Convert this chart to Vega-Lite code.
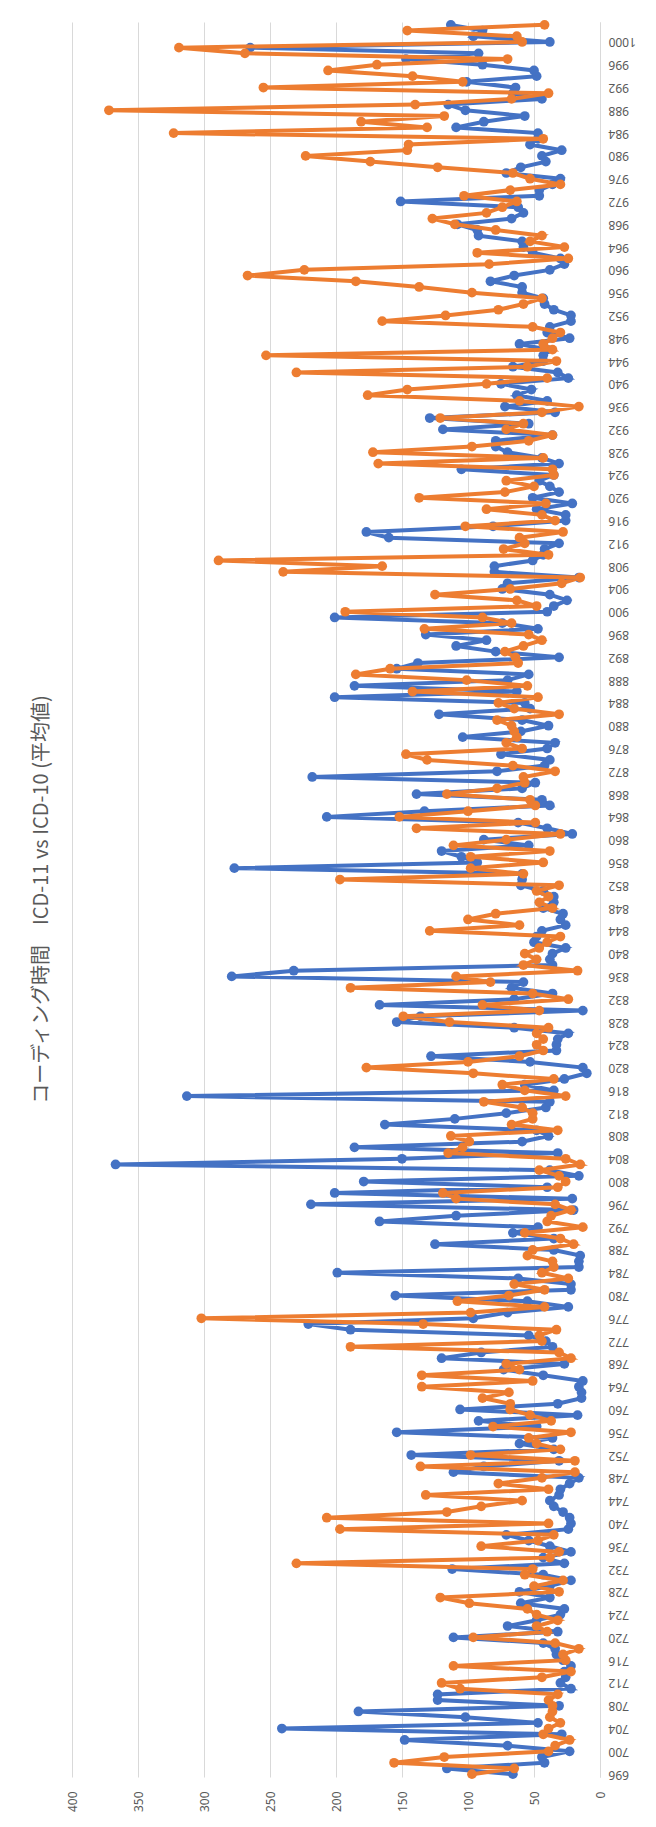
{
"$schema":"https://vega.github.io/schema/vega-lite/v6.json",
"width":528,"height":1755,
"autosize":{"type":"none"},
"padding":{"left":72,"top":22,"right":56,"bottom":50},
"background":"white",
"config":{"view":{"stroke":null},"font":"Noto Sans"},
"title":{"text":"コーディング時間　ICD-11 vs ICD-10 (平均値)","orient":"left","anchor":"middle","angle":-90,"fontSize":20,"font":"Noto Sans CJK JP","fontWeight":"normal","color":"#595959","offset":14},
"data":{"values":[
{"id":696,"a":66,"b":97},{"id":697,"a":116,"b":65},{"id":698,"a":42,"b":156},{"id":699,"a":44,"b":118},{"id":700,"a":23,"b":39},{"id":701,"a":70,"b":34},{"id":702,"a":148,"b":23},{"id":703,"a":29,"b":43},{"id":704,"a":241,"b":39},{"id":705,"a":47,"b":30},{"id":706,"a":102,"b":38},{"id":707,"a":183,"b":36},{"id":708,"a":31,"b":36},{"id":709,"a":123,"b":39},{"id":710,"a":123,"b":32},{"id":711,"a":22,"b":106},{"id":712,"a":30,"b":120},{"id":713,"a":26,"b":44},{"id":714,"a":27,"b":22},{"id":715,"a":22,"b":111},{"id":716,"a":28,"b":26},{"id":717,"a":33,"b":28},{"id":718,"a":34,"b":16},{"id":719,"a":43,"b":34},{"id":720,"a":111,"b":96},{"id":721,"a":32,"b":40},{"id":722,"a":70,"b":48},{"id":723,"a":48,"b":32},{"id":724,"a":30,"b":48},{"id":725,"a":27,"b":55},{"id":726,"a":60,"b":99},{"id":727,"a":38,"b":121},{"id":728,"a":61,"b":31},{"id":729,"a":38,"b":50},{"id":730,"a":22,"b":28},{"id":731,"a":43,"b":57},{"id":732,"a":112,"b":51},{"id":733,"a":27,"b":230},{"id":734,"a":43,"b":38},{"id":735,"a":22,"b":31},{"id":736,"a":38,"b":90},{"id":737,"a":54,"b":47},{"id":738,"a":71,"b":35},{"id":739,"a":24,"b":197},{"id":740,"a":22,"b":39},{"id":741,"a":23,"b":207},{"id":742,"a":28,"b":116},{"id":743,"a":35,"b":90},{"id":744,"a":38,"b":59},{"id":745,"a":31,"b":132},{"id":746,"a":30,"b":39},{"id":747,"a":23,"b":77},{"id":748,"a":16,"b":44},{"id":749,"a":111,"b":19},{"id":750,"a":88,"b":136},{"id":751,"a":31,"b":19},{"id":752,"a":143,"b":98},{"id":753,"a":35,"b":30},{"id":754,"a":61,"b":48},{"id":755,"a":36,"b":54},{"id":756,"a":154,"b":22},{"id":757,"a":48,"b":81},{"id":758,"a":92,"b":37},{"id":759,"a":17,"b":53},{"id":760,"a":106,"b":68},{"id":761,"a":32,"b":68},{"id":762,"a":14,"b":89},{"id":763,"a":14,"b":69},{"id":764,"a":16,"b":135},{"id":765,"a":13,"b":51},{"id":766,"a":43,"b":135},{"id":767,"a":73,"b":61},{"id":768,"a":27,"b":71},{"id":769,"a":120,"b":22},{"id":770,"a":90,"b":31},{"id":771,"a":36,"b":189},{"id":772,"a":41,"b":44},{"id":773,"a":54,"b":46},{"id":774,"a":189,"b":33},{"id":775,"a":221,"b":134},{"id":776,"a":96,"b":302},{"id":777,"a":70,"b":98},{"id":778,"a":24,"b":42},{"id":779,"a":55,"b":108},{"id":780,"a":155,"b":69},{"id":781,"a":22,"b":42},{"id":782,"a":22,"b":65},{"id":783,"a":62,"b":24},{"id":784,"a":199,"b":44},{"id":785,"a":16,"b":35},{"id":786,"a":16,"b":36},{"id":787,"a":15,"b":55},{"id":788,"a":35,"b":51},{"id":789,"a":125,"b":20},{"id":790,"a":35,"b":30},{"id":791,"a":66,"b":57},{"id":792,"a":47,"b":13},{"id":793,"a":167,"b":40},{"id":794,"a":109,"b":37},{"id":795,"a":20,"b":22},{"id":796,"a":219,"b":34},{"id":797,"a":21,"b":109},{"id":798,"a":201,"b":119},{"id":799,"a":40,"b":32},{"id":800,"a":179,"b":26},{"id":801,"a":16,"b":31},{"id":802,"a":38,"b":46},{"id":803,"a":367,"b":15},{"id":804,"a":150,"b":26},{"id":805,"a":32,"b":115},{"id":806,"a":186,"b":104},{"id":807,"a":59,"b":99},{"id":808,"a":39,"b":113},{"id":809,"a":48,"b":32},{"id":810,"a":163,"b":67},{"id":811,"a":110,"b":51},{"id":812,"a":71,"b":51},{"id":813,"a":41,"b":59},{"id":814,"a":38,"b":88},{"id":815,"a":313,"b":26},{"id":816,"a":35,"b":57},{"id":817,"a":57,"b":74},{"id":818,"a":27,"b":35},{"id":819,"a":10,"b":96},{"id":820,"a":13,"b":177},{"id":821,"a":53,"b":100},{"id":822,"a":128,"b":61},{"id":823,"a":33,"b":43},{"id":824,"a":33,"b":48},{"id":825,"a":32,"b":43},{"id":826,"a":24,"b":48},{"id":827,"a":65,"b":39},{"id":828,"a":154,"b":114},{"id":829,"a":136,"b":149},{"id":830,"a":13,"b":46},{"id":831,"a":167,"b":89},{"id":832,"a":65,"b":24},{"id":833,"a":36,"b":51},{"id":834,"a":67,"b":189},{"id":835,"a":58,"b":83},{"id":836,"a":279,"b":109},{"id":837,"a":232,"b":17},{"id":838,"a":36,"b":58},{"id":839,"a":38,"b":48},{"id":840,"a":36,"b":57},{"id":841,"a":26,"b":46},{"id":842,"a":50,"b":40},{"id":843,"a":48,"b":30},{"id":844,"a":44,"b":129},{"id":845,"a":26,"b":61},{"id":846,"a":30,"b":100},{"id":847,"a":28,"b":79},{"id":848,"a":43,"b":36},{"id":849,"a":35,"b":46},{"id":850,"a":35,"b":39},{"id":851,"a":43,"b":48},{"id":852,"a":60,"b":31},{"id":853,"a":59,"b":197},{"id":854,"a":59,"b":58},{"id":855,"a":277,"b":98},{"id":856,"a":93,"b":43},{"id":857,"a":105,"b":98},{"id":858,"a":120,"b":38},{"id":859,"a":54,"b":111},{"id":860,"a":88,"b":71},{"id":861,"a":21,"b":30},{"id":862,"a":40,"b":139},{"id":863,"a":62,"b":49},{"id":864,"a":207,"b":152},{"id":865,"a":133,"b":100},{"id":866,"a":38,"b":49},{"id":867,"a":44,"b":53},{"id":868,"a":139,"b":116},{"id":869,"a":59,"b":78},{"id":870,"a":49,"b":57},{"id":871,"a":218,"b":58},{"id":872,"a":78,"b":34},{"id":873,"a":42,"b":66},{"id":874,"a":38,"b":131},{"id":875,"a":75,"b":147},{"id":876,"a":40,"b":59},{"id":877,"a":34,"b":71},{"id":878,"a":104,"b":63},{"id":879,"a":60,"b":65},{"id":880,"a":39,"b":67},{"id":881,"a":59,"b":78},{"id":882,"a":122,"b":31},{"id":883,"a":53,"b":65},{"id":884,"a":57,"b":77},{"id":885,"a":201,"b":47},{"id":886,"a":63,"b":142},{"id":887,"a":186,"b":55},{"id":888,"a":70,"b":101},{"id":889,"a":54,"b":185},{"id":890,"a":154,"b":159},{"id":891,"a":138,"b":62},{"id":892,"a":31,"b":64},{"id":893,"a":79,"b":72},{"id":894,"a":109,"b":58},{"id":895,"a":86,"b":44},{"id":896,"a":132,"b":54},{"id":897,"a":47,"b":133},{"id":898,"a":74,"b":67},{"id":899,"a":201,"b":89},{"id":900,"a":40,"b":193},{"id":901,"a":35,"b":48},{"id":902,"a":25,"b":63},{"id":903,"a":38,"b":125},{"id":904,"a":74,"b":68},{"id":905,"a":70,"b":29},{"id":906,"a":16,"b":15},{"id":907,"a":80,"b":240},{"id":908,"a":80,"b":165},{"id":909,"a":51,"b":289},{"id":910,"a":43,"b":39},{"id":911,"a":42,"b":73},{"id":912,"a":31,"b":57},{"id":913,"a":160,"b":61},{"id":914,"a":177,"b":28},{"id":915,"a":81,"b":102},{"id":916,"a":26,"b":34},{"id":917,"a":26,"b":44},{"id":918,"a":48,"b":86},{"id":919,"a":21,"b":41},{"id":920,"a":51,"b":137},{"id":921,"a":31,"b":72},{"id":922,"a":38,"b":50},{"id":923,"a":46,"b":71},{"id":924,"a":35,"b":35},{"id":925,"a":105,"b":36},{"id":926,"a":31,"b":168},{"id":927,"a":44,"b":43},{"id":928,"a":70,"b":172},{"id":929,"a":79,"b":97},{"id":930,"a":79,"b":54},{"id":931,"a":36,"b":36},{"id":932,"a":119,"b":71},{"id":933,"a":54,"b":58},{"id":934,"a":129,"b":121},{"id":935,"a":34,"b":44},{"id":936,"a":72,"b":16},{"id":937,"a":40,"b":61},{"id":938,"a":63,"b":176},{"id":939,"a":52,"b":146},{"id":940,"a":75,"b":86},{"id":941,"a":24,"b":40},{"id":942,"a":32,"b":230},{"id":943,"a":66,"b":55},{"id":944,"a":43,"b":33},{"id":945,"a":43,"b":253},{"id":946,"a":40,"b":36},{"id":947,"a":61,"b":43},{"id":948,"a":23,"b":36},{"id":949,"a":40,"b":30},{"id":950,"a":38,"b":51},{"id":951,"a":22,"b":165},{"id":952,"a":22,"b":117},{"id":953,"a":35,"b":77},{"id":954,"a":42,"b":58},{"id":955,"a":43,"b":44},{"id":956,"a":59,"b":97},{"id":957,"a":59,"b":137},{"id":958,"a":83,"b":185},{"id":959,"a":65,"b":267},{"id":960,"a":38,"b":224},{"id":961,"a":27,"b":84},{"id":962,"a":30,"b":24},{"id":963,"a":51,"b":93},{"id":964,"a":58,"b":27},{"id":965,"a":59,"b":53},{"id":966,"a":92,"b":44},{"id":967,"a":93,"b":79},{"id":968,"a":108,"b":110},{"id":969,"a":67,"b":127},{"id":970,"a":58,"b":86},{"id":971,"a":62,"b":74},{"id":972,"a":151,"b":63},{"id":973,"a":46,"b":103},{"id":974,"a":46,"b":68},{"id":975,"a":36,"b":30},{"id":976,"a":30,"b":53},{"id":977,"a":71,"b":66},{"id":978,"a":60,"b":123},{"id":979,"a":41,"b":174},{"id":980,"a":44,"b":223},{"id":981,"a":29,"b":146},{"id":982,"a":53,"b":145},{"id":983,"a":47,"b":43},{"id":984,"a":47,"b":323},{"id":985,"a":109,"b":131},{"id":986,"a":88,"b":181},{"id":987,"a":57,"b":118},{"id":988,"a":102,"b":372},{"id":989,"a":115,"b":140},{"id":990,"a":44,"b":67},{"id":991,"a":66,"b":39},{"id":992,"a":64,"b":255},{"id":993,"a":101,"b":104},{"id":994,"a":48,"b":142},{"id":995,"a":50,"b":206},{"id":996,"a":89,"b":169},{"id":997,"a":147,"b":70},{"id":998,"a":92,"b":269},{"id":999,"a":265,"b":319},{"id":1000,"a":38,"b":59},{"id":1001,"a":96,"b":63},{"id":1002,"a":89,"b":146},{"id":1003,"a":113,"b":42}
]},
"encoding":{
"y":{"field":"id","type":"quantitative","scale":{"domain":[695.5,1003.5],"nice":false,"zero":false},
"axis":{"orient":"right","title":null,"format":"d","grid":false,"ticks":false,"domainColor":"#D9D9D9","domainWidth":1,"labelAngle":180,"labelAlign":"right","labelBaseline":"middle","labelPadding":8,"labelColor":"#595959","labelFontSize":12,"labelFont":"Noto Sans","labelOverlap":false,"labelFlush":false,
"values":[696,700,704,708,712,716,720,724,728,732,736,740,744,748,752,756,760,764,768,772,776,780,784,788,792,796,800,804,808,812,816,820,824,828,832,836,840,844,848,852,856,860,864,868,872,876,880,884,888,892,896,900,904,908,912,916,920,924,928,932,936,940,944,948,952,956,960,964,968,972,976,980,984,988,992,996,1000]}}
},
"layer":[
{"mark":{"type":"line","color":"#4472C4","strokeWidth":4,"point":{"filled":true,"size":95,"color":"#4472C4"}},
"encoding":{"x":{"field":"a","type":"quantitative","scale":{"domain":[0,400],"reverse":true,"nice":false},
"axis":{"orient":"bottom","title":null,"values":[0,50,100,150,200,250,300,350,400],"grid":true,"gridColor":"#D9D9D9","gridWidth":1,"domain":false,"ticks":false,"labelAngle":-90,"labelAlign":"right","labelBaseline":"middle","labelPadding":14,"labelColor":"#595959","labelFontSize":12,"labelFont":"Noto Sans","labelFlush":false}},
"order":{"field":"id","type":"quantitative"}}},
{"mark":{"type":"line","color":"#ED7D31","strokeWidth":4,"point":{"filled":true,"size":95,"color":"#ED7D31"}},
"encoding":{"x":{"field":"b","type":"quantitative"},"order":{"field":"id","type":"quantitative"}}}
]
}
